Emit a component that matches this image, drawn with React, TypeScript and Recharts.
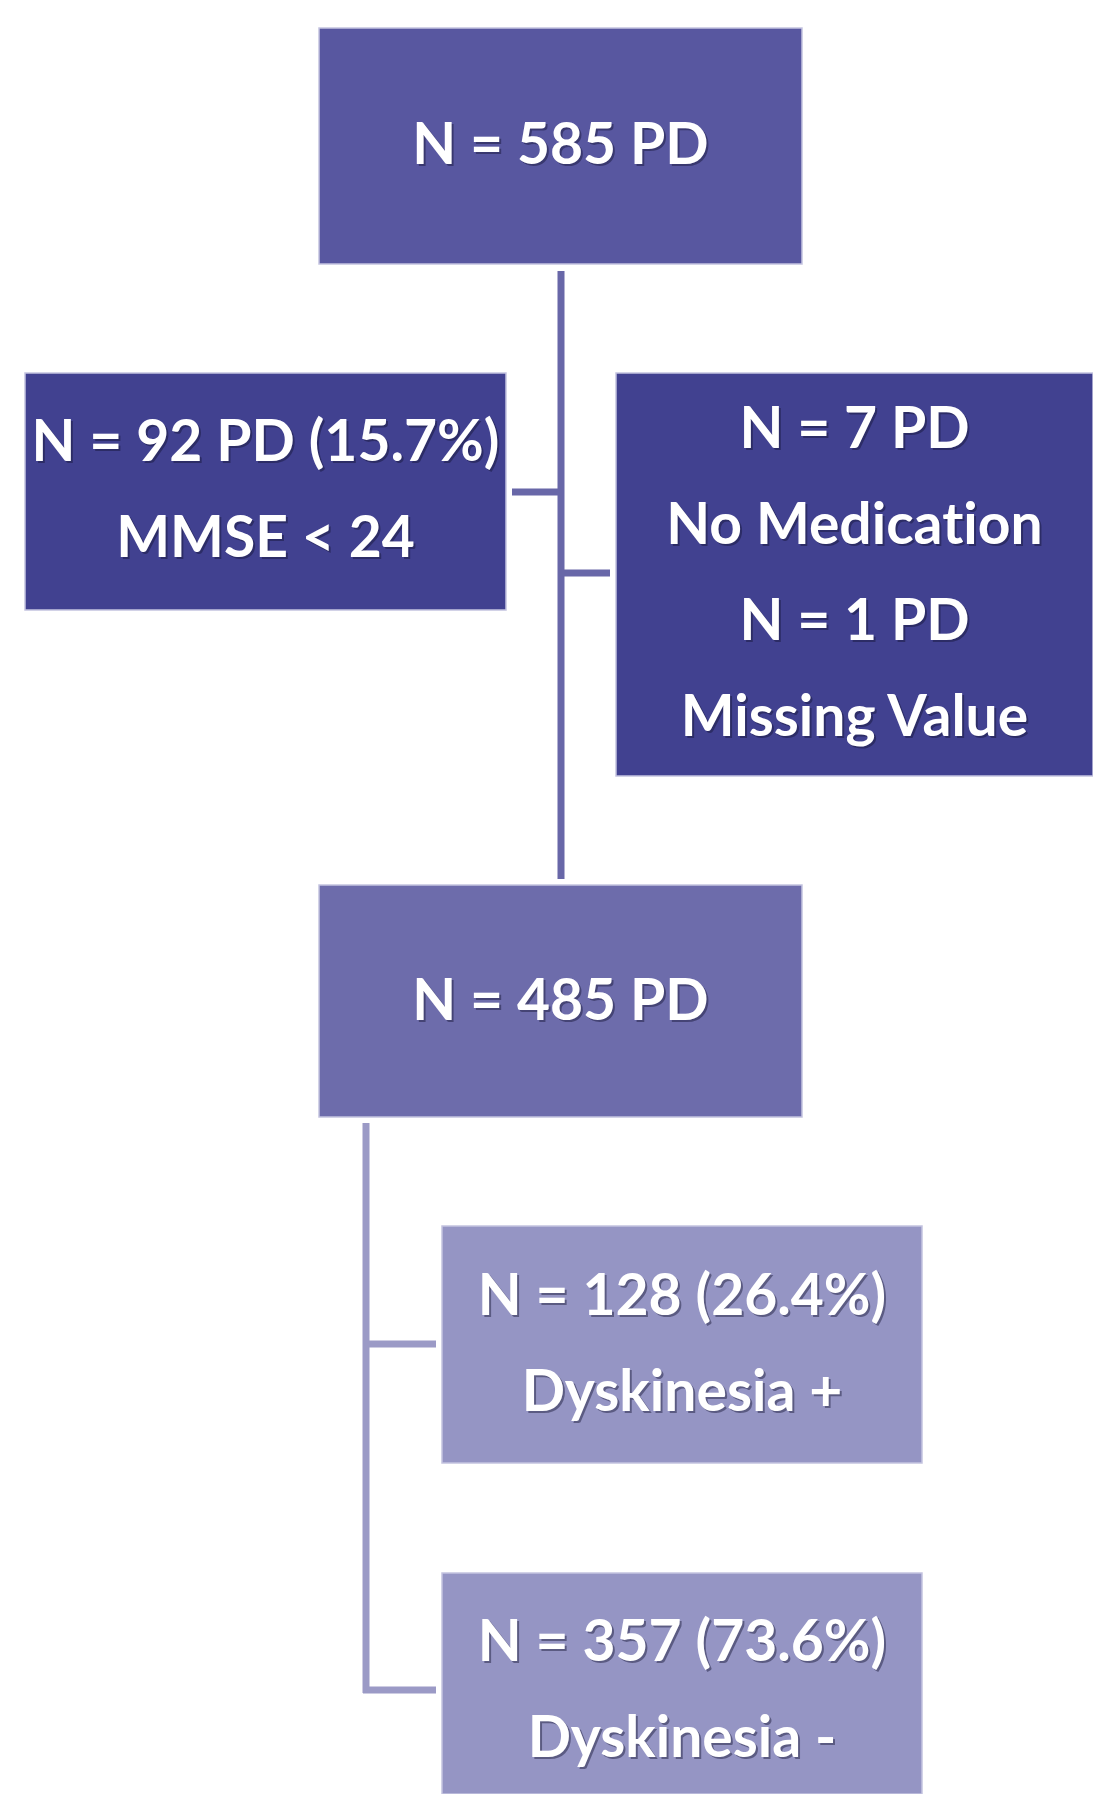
import React from 'react';
import { ScatterChart, Scatter, XAxis, YAxis, ReferenceArea, ReferenceLine } from 'recharts';

// cohort counts
const totalPD = 585;
const mmseExcluded = 92;
const noMedication = 7;
const missingValue = 1;
const analysedPD = 485;
const dyskPositive = 128;
const dyskNegative = 357;

const pct = (n: number, of: number) => `${((n / of) * 100).toFixed(1)}%`;

const nodeIds = ['all', 'mmse', 'excl', 'incl', 'dplus', 'dminus'];
const nodeLines: string[][] = [
  [`N = ${totalPD} PD`],
  [`N = ${mmseExcluded} PD (${pct(mmseExcluded, totalPD)})`, 'MMSE < 24'],
  [`N = ${noMedication} PD`, 'No Medication', `N = ${missingValue} PD`, 'Missing Value'],
  [`N = ${analysedPD} PD`],
  [`N = ${dyskPositive} (${pct(dyskPositive, analysedPD)})`, 'Dyskinesia +'],
  [`N = ${dyskNegative} (${pct(dyskNegative, analysedPD)})`, 'Dyskinesia -'],
];

// layout of the flow chart (pixel space of the 1093 x 1794 canvas)
const W = 1093;
const H = 1794;
const boxLayout = [
  { x1: 319, x2: 802, y1: 28, y2: 264, cy: 143, fill: '#5857a0' },
  { x1: 25, x2: 506, y1: 373, y2: 610, cy: 488, fill: '#414190' },
  { x1: 616, x2: 1093, y1: 373, y2: 776, cy: 571, fill: '#414190' },
  { x1: 319, x2: 802, y1: 885, y2: 1117, cy: 999, fill: '#6d6cab' },
  { x1: 442, x2: 922, y1: 1226, y2: 1463, cy: 1342, fill: '#9595c4' },
  { x1: 442, x2: 922, y1: 1573, y2: 1794, cy: 1688, fill: '#9595c4' },
];

const connectors = [
  { from: { x: 561, y: 271 }, to: { x: 561, y: 879 }, color: '#6867a8' },
  { from: { x: 512, y: 492 }, to: { x: 561, y: 492 }, color: '#6867a8' },
  { from: { x: 561, y: 573 }, to: { x: 610, y: 573 }, color: '#6867a8' },
  { from: { x: 366, y: 1123 }, to: { x: 366, y: 1693 }, color: '#9b9ac6' },
  { from: { x: 366, y: 1344 }, to: { x: 436, y: 1344 }, color: '#9b9ac6' },
  { from: { x: 363, y: 1690 }, to: { x: 436, y: 1690 }, color: '#9b9ac6' },
];

const LINE_GAP = 96;
const FONT = 'Lato, "Open Sans", sans-serif';
const textStyle = { fontVariantLigatures: 'none', fontFeatureSettings: '"liga" 0, "clig" 0' } as React.CSSProperties;

const labelPoints = nodeIds.map((id, i) => ({
  id,
  x: (boxLayout[i].x1 + boxLayout[i].x2) / 2,
  y: boxLayout[i].cy,
  lines: nodeLines[i],
}));

function NodeLabel(props: any) {
  const { cx, cy, payload } = props;
  const lines: string[] = payload.lines;
  const start = cy - ((lines.length - 1) * LINE_GAP) / 2;
  return (
    <g>
      {lines.map((t, i) => {
        const base = start + i * LINE_GAP + 21;
        return (
          <g key={i}>
            <text x={cx + 2} y={base + 2} textAnchor="middle" fontFamily={FONT} fontWeight={700}
              fontSize={57} fill="rgba(20,20,50,0.45)" style={textStyle}>{t}</text>
            <text x={cx} y={base} textAnchor="middle" fontFamily={FONT} fontWeight={700}
              fontSize={57} fill="#ffffff" style={textStyle}>{t}</text>
          </g>
        );
      })}
    </g>
  );
}

export default function App() {
  return (
    <div style={{ position: 'absolute', left: 0, top: 0, width: W, height: H, background: '#fff' }}>
      <ScatterChart width={W} height={H} margin={{ top: 0, right: 0, bottom: 0, left: 0 }}>
        <XAxis type="number" dataKey="x" domain={[0, W]} hide />
        <YAxis type="number" dataKey="y" domain={[0, H]} reversed hide />
        {connectors.map((c, i) => (
          <ReferenceLine
            key={`c${i}`}
            segment={[c.from, c.to]}
            stroke={c.color}
            strokeWidth={7}
            ifOverflow="visible"
          />
        ))}
        {boxLayout.map((b, i) => (
          <ReferenceArea
            key={nodeIds[i]}
            x1={b.x1}
            x2={b.x2}
            y1={b.y1}
            y2={b.y2}
            fill={b.fill}
            fillOpacity={1}
            stroke="#c4c3e0"
            strokeWidth={1.5}
            ifOverflow="visible"
          />
        ))}
        <Scatter data={labelPoints} shape={<NodeLabel />} isAnimationActive={false} />
      </ScatterChart>
    </div>
  );
}
